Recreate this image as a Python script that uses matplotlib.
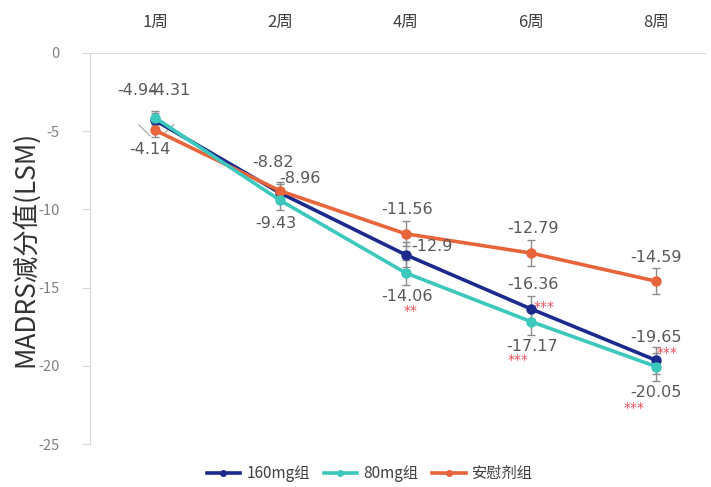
import numpy as np
import matplotlib
matplotlib.use('Agg')
import matplotlib.pyplot as plt
from matplotlib.lines import Line2D

plt.rcParams['font.family'] = ['Noto Sans CJK SC', 'DejaVu Sans']
plt.rcParams['axes.unicode_minus'] = False

weeks = ['1周', '2周', '4周', '6周', '8周']
groups = ['160mg组', '80mg组', '安慰剂组']
lsm_160 = [-4.31, -8.96, -12.9, -16.36, -19.65]
lsm_80 = [-4.14, -9.43, -14.06, -17.17, -20.05]
lsm_placebo = [-4.94, -8.82, -11.56, -12.79, -14.59]
se_160 = [0.45, 0.6, 0.8, 0.85, 0.85]
se_80 = [0.45, 0.6, 0.8, 0.85, 0.9]
se_placebo = [0.45, 0.6, 0.8, 0.85, 0.85]
stars_160 = ['', '', '', '***', '***']
stars_80 = ['', '', '**', '***', '***']

colors = ['#1b2a8c', '#3cc8bd', '#e8643a']
series = [lsm_160, lsm_80, lsm_placebo]
errors = [se_160, se_80, se_placebo]

# label offsets in pixels (dx, dy) per group per week
label_off = [
    [(15, 30), (20, 15), (26, 8), (2, 24), (0, 23)],
    [(-5, -32), (-5, -23), (1, -24), (1, -25), (0, -26)],
    [(-17, 40), (-7, 28), (1, 24), (2, 25), (0, 24)],
]
star_off = [
    [None, None, None, (13, 2), (11, 7)],
    [None, None, (5, -38), (-13, -38), (-22, -41)],
]

fig = plt.figure(figsize=(7.11, 4.87), dpi=100)
ax = fig.add_axes([90 / 711, 43 / 487, 615 / 711, 391 / 487])

x = np.arange(len(weeks))
for k, (vals, err, c) in enumerate(zip(series, errors, colors)):
    ax.errorbar(x, vals, yerr=err, fmt='none', ecolor='#8c8c8c', elinewidth=1.0,
                capsize=3, capthick=1.0, zorder=2)
    ax.plot(x, vals, '-o', color=c, lw=2.6, ms=6.5, zorder=3 + (k == 1))

grey = '#595959'
for k, vals in enumerate(series):
    for i, v in enumerate(vals):
        dx, dy = label_off[k][i]
        ax.annotate('%g' % v, xy=(i, v), xytext=(dx, dy), textcoords='offset pixels',
                    ha='center', va='center', fontsize=11.5, color=grey,
                    family='DejaVu Sans', zorder=5)

# leader lines for the crowded week 1 labels
ax.plot([-0.13, -0.04], [-4.6, -5.3], color='#a0a0a0', lw=0.8, zorder=1)
ax.plot([0.15, 0.06], [-4.6, -5.2], color='#a0a0a0', lw=0.8, zorder=1)

for k, stars in enumerate([stars_160, stars_80]):
    vals = series[k]
    for i, s in enumerate(stars):
        if s:
            dx, dy = star_off[k][i]
            ax.annotate(s, xy=(i, vals[i]), xytext=(dx, dy), textcoords='offset pixels',
                        ha='center', va='center', fontsize=10, color='#e8505b',
                        family='DejaVu Sans', zorder=5)

ax.set_xlim(-0.52, 4.39)
ax.set_ylim(-25, 0)
ax.set_xticks(x)
ax.set_xticklabels(weeks)
ax.xaxis.tick_top()
ax.tick_params(axis='x', length=0, pad=16, labelsize=12, labelcolor='#404040')
ax.set_yticks([0, -5, -10, -15, -20, -25])
ax.tick_params(axis='y', length=6, color='#d9d9d9', labelsize=10.5, labelcolor='#808080', pad=16)
ax.set_ylabel('MADRS减分值(LSM)', fontsize=19, color='#333333')
ax.yaxis.set_label_coords(-0.082, 0.5)

for side in ['right', 'bottom']:
    ax.spines[side].set_visible(False)
ax.spines['left'].set_color('#d9d9d9')
ax.spines['top'].set_color('#d9d9d9')

handles = [Line2D([0], [0], color=c, lw=2.6, marker='o', ms=4) for c in colors]
fig.legend(handles, groups, loc='center', bbox_to_anchor=(0.52, 0.027), ncol=3,
           frameon=False, fontsize=11, handlelength=2.2, handletextpad=0.4,
           columnspacing=0.9, labelcolor='#404040')

fig.savefig('out.png', dpi=100)
